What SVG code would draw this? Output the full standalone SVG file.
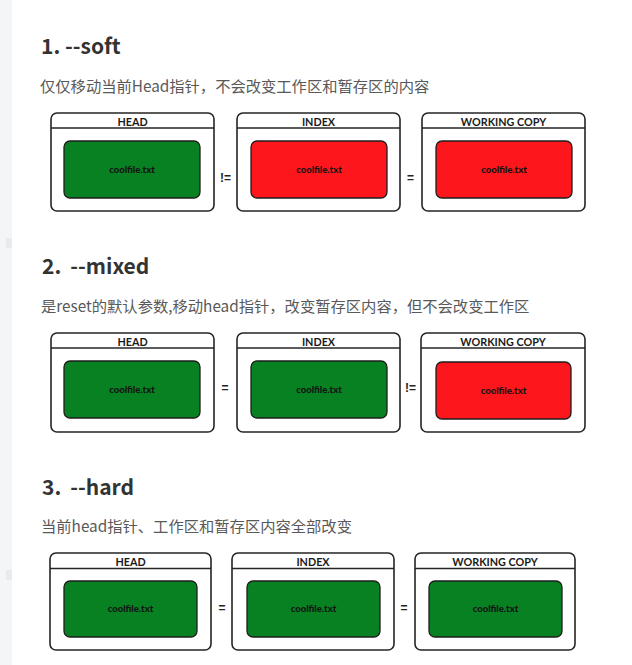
<svg xmlns="http://www.w3.org/2000/svg" width="632" height="665" viewBox="0 0 632 665">
<style>
.title{font-family:"Noto Sans CJK SC","Noto Sans",sans-serif;font-weight:bold;font-size:21px;fill:#333}
.sub{font-family:"Noto Sans CJK SC","Noto Sans",sans-serif;font-size:15.3px;fill:#595959}
.box{fill:#fff;stroke:#252525;stroke-width:1.6}
.hline{stroke:#252525;stroke-width:1.6}
.hdr{font-family:Lato,"Liberation Sans",sans-serif;font-weight:bold;font-size:10.8px;fill:#1a1a1a;text-anchor:middle}
.g{fill:#078122;stroke:#1e1e1e;stroke-width:1.3}
.r{fill:#fd161b;stroke:#1e1e1e;stroke-width:1.3}
.file{font-family:Lato,"Liberation Sans",sans-serif;font-weight:900;font-size:9.5px;fill:#141414;text-anchor:middle}
.op{font-family:"Liberation Sans",sans-serif;font-weight:bold;font-size:12px;fill:#222;text-anchor:middle}
</style>
<rect x="0" y="0" width="632" height="665" fill="#fff"/>
<rect x="0" y="0" width="12" height="665" fill="#f4f5f7"/>
<rect x="6" y="238" width="6" height="10" fill="#e9eaec"/>
<rect x="6" y="570" width="6" height="10" fill="#e9eaec"/>

<g id="section1">
<text class="title" x="41" y="54">1. --soft</text>
<text class="sub" x="40" y="92">仅仅移动当前Head指针，不会改变工作区和暂存区的内容</text>
</g>
<g id="s1-head">
<rect class="box" x="51" y="113" width="163" height="98" rx="6"/>
<line class="hline" x1="51" y1="128" x2="214" y2="128"/>
<text class="hdr" x="132.5" y="125.5">HEAD</text>
<rect class="g" x="64" y="141" width="136" height="57" rx="6"/>
<text class="file" x="132" y="173">coolfile.txt</text>
</g>
<g id="s1-index">
<rect class="box" x="237" y="113" width="163" height="98" rx="6"/>
<line class="hline" x1="237" y1="128" x2="400" y2="128"/>
<text class="hdr" x="318.5" y="125.5">INDEX</text>
<rect class="r" x="251" y="141" width="136" height="57" rx="6"/>
<text class="file" x="319" y="173">coolfile.txt</text>
</g>
<g id="s1-working">
<rect class="box" x="422" y="113" width="163" height="98" rx="6"/>
<line class="hline" x1="422" y1="128" x2="585" y2="128"/>
<text class="hdr" x="503.5" y="125.5">WORKING COPY</text>
<rect class="r" x="436" y="141" width="136" height="57" rx="6"/>
<text class="file" x="504" y="173">coolfile.txt</text>
</g>

<g id="section2">
<text class="title" x="42" y="274">2.<tspan dx="9">--mixed</tspan></text>
<text class="sub" x="41" y="312">是reset的默认参数,移动head指针，改变暂存区内容，但不会改变工作区</text>
</g>
<g id="s2-head">
<rect class="box" x="51" y="333" width="163" height="99" rx="6"/>
<line class="hline" x1="51" y1="348" x2="214" y2="348"/>
<text class="hdr" x="132.5" y="345.5">HEAD</text>
<rect class="g" x="64" y="361" width="136" height="57" rx="6"/>
<text class="file" x="132" y="393">coolfile.txt</text>
</g>
<g id="s2-index">
<rect class="box" x="237" y="333" width="163" height="99" rx="6"/>
<line class="hline" x1="237" y1="348" x2="400" y2="348"/>
<text class="hdr" x="318.5" y="345.5">INDEX</text>
<rect class="g" x="251" y="361" width="136" height="57" rx="6"/>
<text class="file" x="319" y="393">coolfile.txt</text>
</g>
<g id="s2-working">
<rect class="box" x="421" y="333" width="164" height="99" rx="6"/>
<line class="hline" x1="421" y1="348" x2="585" y2="348"/>
<text class="hdr" x="503" y="345.5">WORKING COPY</text>
<rect class="r" x="436" y="362" width="135" height="57" rx="6"/>
<text class="file" x="503.5" y="394">coolfile.txt</text>
</g>

<g id="section3">
<text class="title" x="42" y="495">3.<tspan dx="9">--hard</tspan></text>
<text class="sub" x="41" y="532">当前head指针、工作区和暂存区内容全部改变</text>
</g>
<g id="s3-head">
<rect class="box" x="50" y="553" width="161" height="97" rx="6"/>
<line class="hline" x1="50" y1="568.5" x2="211" y2="568.5"/>
<text class="hdr" x="130.5" y="566">HEAD</text>
<rect class="g" x="64" y="581" width="133" height="56" rx="6"/>
<text class="file" x="130.5" y="612">coolfile.txt</text>
</g>
<g id="s3-index">
<rect class="box" x="232" y="553" width="162" height="97" rx="6"/>
<line class="hline" x1="232" y1="568.5" x2="394" y2="568.5"/>
<text class="hdr" x="313" y="566">INDEX</text>
<rect class="g" x="247" y="581" width="133" height="56" rx="6"/>
<text class="file" x="313.5" y="612">coolfile.txt</text>
</g>
<g id="s3-working">
<rect class="box" x="415" y="553" width="160" height="97" rx="6"/>
<line class="hline" x1="415" y1="568.5" x2="575" y2="568.5"/>
<text class="hdr" x="495" y="566">WORKING COPY</text>
<rect class="g" x="429" y="581" width="133" height="56" rx="6"/>
<text class="file" x="495.5" y="612">coolfile.txt</text>
</g>

<g id="connectors">
<text class="op" x="225.5" y="182">!=</text>
<text class="op" x="410.5" y="182">=</text>
<text class="op" x="225" y="392">=</text>
<text class="op" x="410.5" y="392">!=</text>
<text class="op" x="222" y="612">=</text>
<text class="op" x="404" y="612">=</text>
</g>
</svg>
